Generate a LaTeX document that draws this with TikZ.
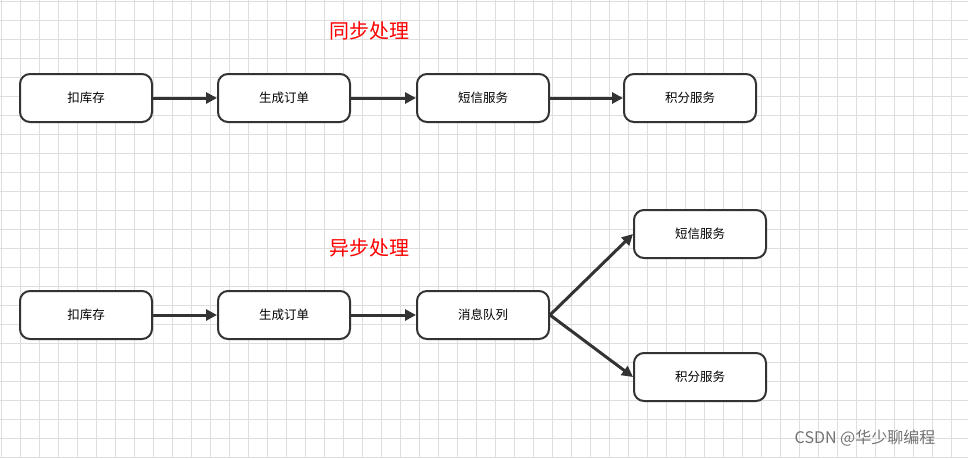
\documentclass[tikz,border=0pt]{standalone}
\usepackage{fontspec}
\newfontfamily\cjk{Noto Sans CJK SC}
\usetikzlibrary{arrows.meta}
\begin{document}
\begin{tikzpicture}[x=1pt,y=-1pt,
  box/.style={draw=black!80,line width=2pt,rounded corners=10pt,fill=white,minimum width=132pt,minimum height=48pt,font=\cjk\fontsize{12.5}{14}\selectfont,inner sep=0pt},
  arr/.style={draw=black!80,line width=3pt,-{Triangle[length=11pt,width=11pt]}},
  ttl/.style={text=red,font=\cjk\fontsize{20}{24}\selectfont}]
\useasboundingbox (0,0) rectangle (968,458);
\fill[white] (0,0) rectangle (968,458);
\foreach \i in {0,...,51} {\draw[black!13,line width=0.8pt] (1+19*\i,0) -- (1+19*\i,458);}
\foreach \i in {0,...,24} {\draw[black!13,line width=0.8pt] (0,1+19*\i) -- (968,1+19*\i);}
\node[ttl] (t1) at (369,31) {同步处理};
\node[ttl] (t2) at (369,248) {异步处理};
\node[box] (a1) at (86,98) {扣库存};
\node[box] (a2) at (284,98) {生成订单};
\node[box] (a3) at (483,98) {短信服务};
\node[box] (a4) at (690,98) {积分服务};
\draw[arr] (a1) -- (a2); \draw[arr] (a2) -- (a3); \draw[arr] (a3) -- (a4);
\node[box] (b1) at (86,315) {扣库存};
\node[box] (b2) at (284,315) {生成订单};
\node[box] (b3) at (483,315) {消息队列};
\node[box] (b4) at (700,234) {短信服务};
\node[box] (b5) at (700,377) {积分服务};
\draw[arr] (b1) -- (b2); \draw[arr] (b2) -- (b3);
\draw[arr] (b3.east) -- (b4.west); \draw[arr] (b3.east) -- (b5.west);
\node[text=black!55,font=\cjk\fontsize{16}{18}\selectfont] (wm) at (865,438) {CSDN @华少聊编程};
\end{tikzpicture}
\end{document}
